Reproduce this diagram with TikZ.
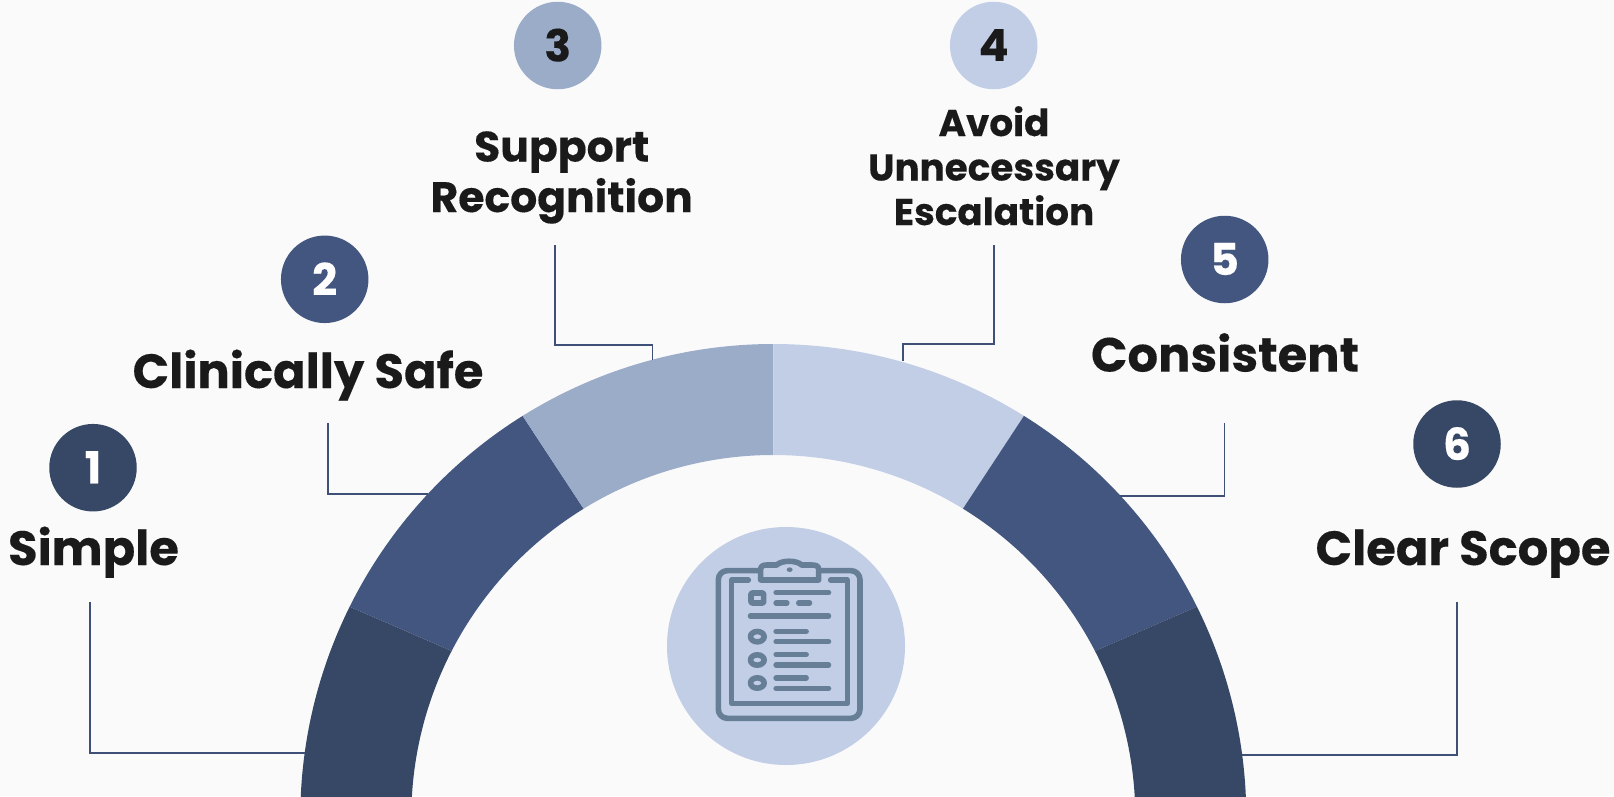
\documentclass[tikz,border=0pt]{standalone}
\usepackage{fontspec}
\setmainfont{Poppins}[BoldFeatures={FakeBold=0.25}]
\usetikzlibrary{calc}
\definecolor{bgc}{HTML}{FAFAFA}
\definecolor{dk}{HTML}{374866}
\definecolor{md}{HTML}{43567F}
\definecolor{lt}{HTML}{9BACC9}
\definecolor{pale}{HTML}{C2CDE6}
\definecolor{txt}{HTML}{1A1A1A}
\definecolor{ico}{HTML}{667F96}
\definecolor{lnk}{HTML}{3F5078}
\newcommand{\dg}[1]{\raisebox{1pt}{#1}}
\tikzset{
  num/.style={circle,minimum size=87.5pt,inner sep=0pt,font=\fontsize{44}{44}\selectfont\bfseries},
  lab/.style={anchor=base,inner sep=0pt,text=txt,align=center},
  big/.style={font=\fontsize{48}{48}\selectfont\bfseries},
  mid/.style={font=\fontsize{42.5}{50.5}\selectfont\bfseries},
  sml/.style={font=\fontsize{37.3}{44.5}\selectfont\bfseries},
  conn/.style={draw=lnk,line width=1.5pt},
  ic/.style={draw=ico,line width=5.6pt,line join=round},
  icl/.style={draw=ico,line width=5.2pt,line cap=round}
}
% colour, outer start, outer end, inner start, inner end
\newcommand{\ringseg}[5]{\fill[#1] ($(773.3,817)+(#2:473)$) arc[start angle=#2,end angle=#3,radius=473] -- ($(773.3,817)+(#5:362)$) arc[start angle=#5,end angle=#4,radius=362] -- cycle;}
\begin{document}
\begin{tikzpicture}[x=1pt,y=-1pt]
\useasboundingbox (0,0) rectangle (1614,796);
\fill[bgc] (0,0) rectangle (1614,796);
\begin{scope}
\clip (0,0) rectangle (1614,796);
\ringseg{dk}{-153.6}{-190}{-152.7}{-190}
\ringseg{md}{-122}{-153.6}{-121.6}{-152.7}
\ringseg{lt}{-90}{-122}{-90}{-121.6}
\ringseg{pale}{-58}{-90}{-58.4}{-90}
\ringseg{md}{-26.4}{-58}{-27.3}{-58.4}
\ringseg{dk}{10}{-26.4}{10}{-27.3}
\end{scope}
% connector ends
\coordinate (c1a) at (90,602); \coordinate (c1b) at (305,753);
\coordinate (c2a) at (328,423); \coordinate (c2b) at (428,494);
\coordinate (c3a) at (555,245); \coordinate (c3b) at (652.6,345); \coordinate (c3c) at (652.6,360);
\coordinate (c4a) at (994,245); \coordinate (c4b) at (903,344); \coordinate (c4c) at (903,361);
\coordinate (c5a) at (1224.5,423); \coordinate (c5b) at (1120,496);
\coordinate (c6a) at (1457,602); \coordinate (c6b) at (1242,755);
\draw[conn] (c1a) |- (c1b);
\draw[conn] (c2a) |- (c2b);
\draw[conn] (c3a) |- (c3b) -- (c3c);
\draw[conn] (c4a) |- (c4b) -- (c4c);
\draw[conn] (c5a) |- (c5b);
\draw[conn] (c6a) |- (c6b);
% numbered circles
\node[num,fill=dk,text=white] (n1) at (93,467.7) {\dg{1}};
\node[num,fill=md,text=white] (n2) at (324.7,279.3) {\dg{2}};
\node[num,fill=lt,text=txt] (n3) at (557.7,45.5) {\dg{3}};
\node[num,fill=pale,text=txt] (n4) at (993.7,45.5) {\dg{4}};
\node[num,fill=md,text=white] (n5) at (1224.7,259.5) {\dg{5}};
\node[num,fill=dk,text=white] (n6) at (1457,444) {\dg{6}};
% labels
\node[lab,big] (l1) at (93.5,565) {Simple};
\node[lab,big] (l2) at (308,388) {Clinically Safe};
\node[lab,mid] (l3) at (561.7,212) {Support\\Recognition};
\node[lab,sml] (l4) at (994,225) {Avoid\\Unnecessary\\Escalation};
\node[lab,big] (l5) at (1225,371.6) {Consistent};
\node[lab,big] (l6) at (1463,565) {Clear Scope};
% centre icon
\node[circle,fill=pale,minimum size=238pt,inner sep=0pt] (hub) at (786,646) {};
\begin{scope}[shift={(640,500)},scale=0.3333]
\draw[ic,rounded corners=9pt] (362,212) -- (235,212) -- (235,655) -- (660,655) -- (660,212) -- (536,212);
\draw[ic,line cap=round] (325,240) -- (275,240) -- (275,610) -- (622,610) -- (622,240) -- (572,240);
\draw[ic] (362,240) -- (362,208) .. controls (362,198) and (370,195) .. (380,195) -- (410,195)
  .. controls (425,180) and (470,180) .. (485,195) -- (515,195)
  .. controls (528,195) and (536,198) .. (536,208) -- (536,240) -- cycle;
\fill[ico] (449,209) ellipse [x radius=9,y radius=7];
\draw[ic,rounded corners=1pt] (333,279) rectangle (371,309);
\foreach \a/\b/\yy in {408/566/278,408/441/309,476/509/309,331/566/348,408/499/394,408/566/425,408/499/464,408/566/495,408/499/534,408/566/565}
  \draw[icl] (\a,\yy) -- (\b,\yy);
\foreach \yy in {410,480,549}
  \draw[ic] (352,\yy) ellipse [x radius=20.5,y radius=15.5];
\end{scope}
\end{tikzpicture}
\end{document}
